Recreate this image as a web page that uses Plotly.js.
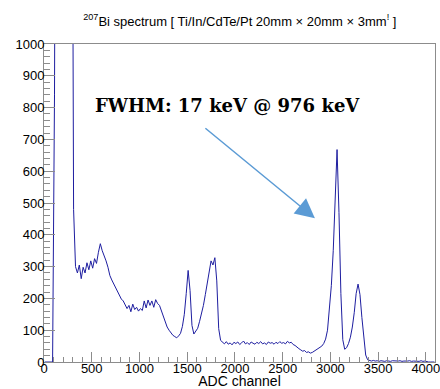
<!DOCTYPE html>
<html>
<head>
<meta charset="utf-8">
<script src="https://cdn.plot.ly/plotly-3.0.1.min.js"></script>
<style>html,body{margin:0;padding:0;background:#fff;}#chart{width:440px;height:389px;}</style>
</head>
<body>
<div id="chart"></div>
<script>
// Bin lower edges (ADC channel), bin width 20
const binWidth = 20;
const binStart = 0;
// Counts per bin
const counts = [
  0, 0, 0, 0, 0, 840, 2600, 5200, 6100, 5800,          // 0 - 180
  5300, 4700, 4100, 3500, 2300, 480, 300, 280, 305, 262, // 200 - 380
  298, 280, 312, 290, 318, 295, 325, 310, 345, 372,     // 400 - 580
  350, 335, 318, 298, 272, 258, 245, 232, 222, 210,     // 600 - 780
  198, 192, 182, 168, 178, 158, 182, 165, 172, 160,     // 800 - 980
  168, 162, 192, 170, 195, 178, 192, 172, 196, 184,     // 1000 - 1180
  178, 160, 140, 122, 110, 100, 90, 84, 80, 76,         // 1200 - 1380
  82, 90, 112, 150, 215, 288, 225, 115, 88, 96,         // 1400 - 1580
  106, 128, 150, 178, 212, 250, 292, 318, 305, 328,     // 1600 - 1780
  255, 105, 68, 62, 57, 64, 56, 60, 54, 62,             // 1800 - 1980
  58, 63, 55, 60, 66, 57, 61, 55, 63, 59,               // 2000 - 2180
  56, 62, 58, 64, 57, 60, 55, 63, 59, 61,               // 2200 - 2380
  56, 62, 58, 64, 59, 61, 57, 65, 60, 62,               // 2400 - 2580
  55, 52, 46, 42, 38, 34, 36, 30, 32, 28,               // 2600 - 2780
  30, 34, 38, 42, 46, 50, 58, 72, 100, 160,             // 2800 - 2980
  240, 350, 505, 668, 470, 215, 70, 40, 45, 58,         // 3000 - 3180
  78, 110, 155, 215, 245, 212, 140, 70, 22, 7,          // 3200 - 3380
  4, 3, 5, 3, 4, 2, 4, 3, 2, 4,                         // 3400 - 3580
  3, 2, 4, 3, 2, 3, 4, 2, 3, 2,                         // 3600 - 3780
  3, 4, 2, 3, 2, 3, 2, 4, 2, 3,                         // 3800 - 3980
  1, 0, 0, 0, 0                                          // 4000 - 4080
];
const channels = counts.map((_, i) => binStart + i * binWidth + binWidth / 2);

const xRange = [0, 4096];
const yRange = [0, 1000];
const titleText = '<sup>207</sup>Bi spectrum [ Ti/In/CdTe/Pt 20mm \u00d7 20mm \u00d7 3mm<sup>!</sup> ]';
const xTitle = 'ADC channel';
const noteText = 'FWHM: 17 keV @ 976 keV';
// Arrow tail and tip in data coordinates
const arrowTail = [1675, 739];
const arrowTip = [2838, 452];

const sans = 'Liberation Sans';

const trace = {
  x: channels,
  y: counts,
  type: 'scatter',
  mode: 'lines',
  line: {shape: 'linear', color: '#1e1ea0', width: 1},
  hoverinfo: 'x+y'
};

const axisCommon = {
  showgrid: false,
  zeroline: false,
  showline: true,
  mirror: true,
  linecolor: '#8c8c8c',
  linewidth: 1,
  ticks: 'inside',
  tickcolor: '#8c8c8c',
  tickwidth: 1,
  ticklabeloverflow: 'allow',
  tickfont: {family: sans, size: 13, color: '#000'}
};

const layout = {
  width: 440,
  height: 389,
  margin: {l: 44, r: 5, t: 44, b: 27},
  paper_bgcolor: '#fff',
  plot_bgcolor: '#fff',
  showlegend: false,
  font: {family: sans},
  title: {
    text: titleText,
    font: {family: sans, size: 13, color: '#000'},
    x: 0.545, xanchor: 'center', xref: 'container',
    y: 0.945, yanchor: 'middle', yref: 'container'
  },
  xaxis: Object.assign({}, axisCommon, {
    range: xRange,
    dtick: 500, tick0: 0,
    ticklen: 10,
    minor: {ticks: 'inside', dtick: 100, ticklen: 5, tickcolor: '#8c8c8c'},
    ticklabelstandoff: -6,
    title: {text: xTitle, standoff: 0, font: {family: sans, size: 14, color: '#000'}}
  }),
  yaxis: Object.assign({}, axisCommon, {
    range: yRange,
    dtick: 100, tick0: 0,
    ticklen: 11,
    minor: {ticks: 'inside', dtick: 20, ticklen: 6, tickcolor: '#8c8c8c'},
    ticklabelstandoff: -4
  }),
  annotations: [
    {
      xref: 'paper', yref: 'paper',
      x: 0.47, y: 0.808,
      xanchor: 'center', yanchor: 'middle',
      text: '<b>' + noteText + '</b>',
      showarrow: false,
      font: {family: 'DejaVu Serif', size: 18, color: '#000'}
    },
    {
      xref: 'x', yref: 'y', axref: 'x', ayref: 'y',
      x: arrowTip[0], y: arrowTip[1],
      ax: arrowTail[0], ay: arrowTail[1],
      text: '',
      showarrow: true,
      arrowhead: 2,
      arrowsize: 2.6,
      arrowwidth: 1.5,
      arrowcolor: '#5b9bd5'
    }
  ]
};

Plotly.newPlot('chart', [trace], layout, {displayModeBar: false, staticPlot: true});
</script>
</body>
</html>
